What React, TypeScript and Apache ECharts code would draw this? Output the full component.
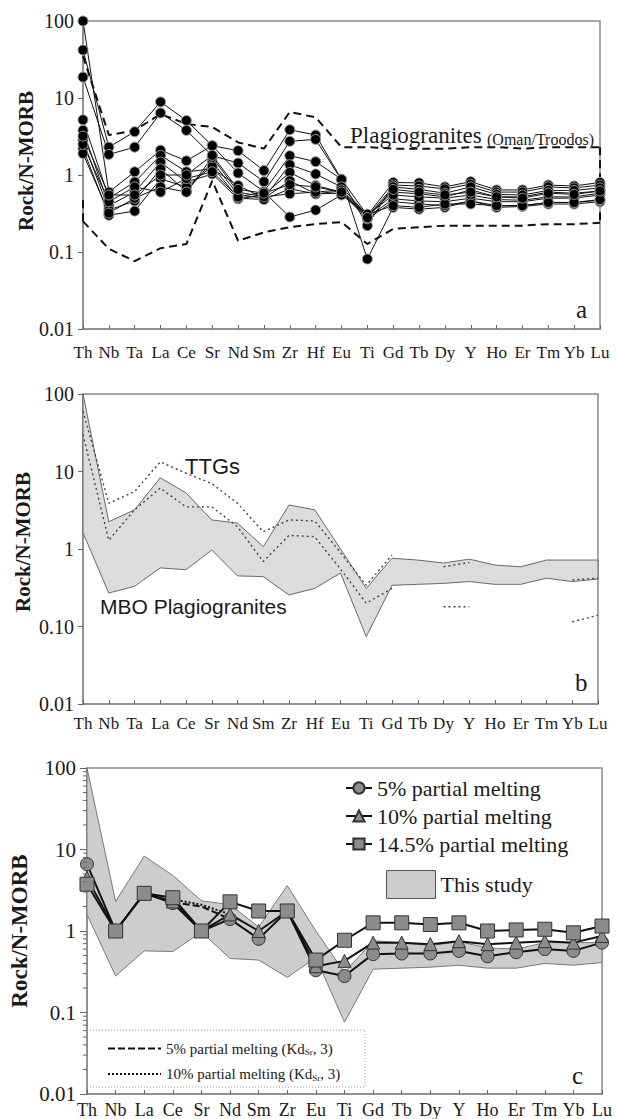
import React, { useEffect, useRef } from 'react';
import * as echarts from 'echarts';

const SERIF = 'Liberation Serif, DejaVu Serif, serif';
const SANS = 'Liberation Sans, Arial, sans-serif';

// categories
const catsAB = ['Th','Nb','Ta','La','Ce','Sr','Nd','Sm','Zr','Hf','Eu','Ti','Gd','Tb','Dy','Y','Ho','Er','Tm','Yb','Lu'];
const catsC = ['Th','Nb','La','Ce','Sr','Nd','Sm','Zr','Eu','Ti','Gd','Tb','Dy','Y','Ho','Er','Tm','Yb','Lu'];
const yTicksA = ['0.01','0.1','1','10','100'];
const yTicksB = ['0.01','0.10','1','10','100'];
const yTicksC = ['0.01','0.1','1','10','100'];

// panel a: samples (MBO plagiogranites)
const sA1 = [42, 2.3, 3.65, 8.9, 5.1, 2.4, 2.07, 1.14, 3.87, 3.3, 0.88, 0.3, 0.8, 0.79, 0.7, 0.82, 0.64, 0.64, 0.74, 0.72, 0.8];
const sA2 = [18.7, 1.85, 2.3, 6.4, 3.8, 1.78, 1.43, 0.82, 2.74, 2.9, 0.86, 0.22, 0.74, 0.72, 0.66, 0.76, 0.6, 0.6, 0.7, 0.68, 0.74];
const sA3 = [100, 0.6, 1.1, 2.1, 1.53, 2.4, 1.06, 0.61, 1.78, 1.49, 0.88, 0.081, 0.38, 0.36, 0.38, 0.46, 0.38, 0.39, 0.42, 0.42, 0.45];
const sA4 = [5.2, 0.5, 0.81, 1.8, 1.1, 1.2, 0.73, 0.5, 1.36, 1.03, 0.7, 0.3, 0.6, 0.57, 0.52, 0.64, 0.52, 0.52, 0.6, 0.58, 0.62];
const sA5 = [3.8, 0.4, 0.6, 1.47, 0.81, 1.03, 0.49, 0.55, 1.08, 0.73, 0.6, 0.28, 0.49, 0.46, 0.45, 0.5, 0.45, 0.45, 0.5, 0.5, 0.55];
const sA6 = [2.8, 0.35, 0.46, 1.2, 0.61, 1.5, 0.55, 0.5, 0.84, 0.57, 0.58, 0.27, 0.45, 0.42, 0.4, 0.46, 0.4, 0.4, 0.44, 0.44, 0.47];
const sA7 = [2.2, 0.3, 0.34, 0.89, 0.7, 1.3, 0.5, 0.48, 0.66, 0.57, 0.62, 0.29, 0.7, 0.65, 0.58, 0.7, 0.56, 0.55, 0.63, 0.63, 0.68];
const sA8 = [1.9, 0.32, 0.5, 0.7, 0.6, 1.7, 0.6, 0.52, 0.57, 0.6, 0.64, 0.3, 0.55, 0.52, 0.5, 0.55, 0.48, 0.47, 0.52, 0.52, 0.58];
const sA9 = [2.5, 0.45, 0.7, 0.6, 0.9, 1.1, 0.52, 0.6, 0.285, 0.35, 0.55, 0.31, 0.4, 0.38, 0.42, 0.42, 0.4, 0.4, 0.44, 0.44, 0.48];
const sA10 = [3.2, 0.55, 0.55, 1.0, 1.0, 1.8, 0.65, 0.58, 0.75, 0.7, 0.6, 0.28, 0.65, 0.6, 0.55, 0.6, 0.52, 0.5, 0.58, 0.56, 0.62];
const samplesA = [sA1, sA2, sA3, sA4, sA5, sA6, sA7, sA8, sA9, sA10];

// panel a: Oman/Troodos plagiogranite envelope
const omanUpper = [35, 3.3, 3.8, 6.2, 4.6, 4.2, 2.65, 2.2, 6.6, 5.6, 2.3, 2.3, 2.2, 2.2, 2.2, 2.3, 2.3, 2.2, 2.3, 2.3, 2.3];
const omanLower = [0.25, 0.11, 0.076, 0.112, 0.127, 0.84, 0.14, 0.18, 0.21, 0.23, 0.245, 0.127, 0.2, 0.21, 0.22, 0.22, 0.22, 0.22, 0.23, 0.23, 0.24];

// panel b: MBO plagiogranite field and TTGs
const mboUpperB = [100, 2.25, 3.2, 8.3, 5.3, 2.37, 2.16, 1.07, 3.7, 3.2, 1.0, 0.31, 0.76, 0.72, 0.66, 0.74, 0.62, 0.59, 0.72, 0.72, 0.72];
const mboLowerB = [1.62, 0.27, 0.33, 0.57, 0.54, 0.97, 0.45, 0.44, 0.255, 0.31, 0.49, 0.074, 0.34, 0.35, 0.36, 0.38, 0.35, 0.35, 0.42, 0.38, 0.41];
const ttgUpper = [60, 3.9, 5.5, 13.3, 9.5, 7.0, 3.9, 1.67, 2.37, 2.3, 0.9, 0.34, 0.84, null, 0.59, 0.67, null, null, null, 0.4, 0.42];
const ttgLower = [30, 1.3, 3.2, 6.1, 3.5, 3.5, 1.94, 0.69, 1.5, 1.44, 0.55, 0.2, 0.31, null, 0.18, 0.18, null, null, null, 0.115, 0.14];

// panel c: melting models and this study field
const melt5 = [6.6, 1.0, 2.9, 2.2, 1.0, 1.4, 0.8, 1.76, 0.33, 0.28, 0.52, 0.53, 0.53, 0.57, 0.49, 0.55, 0.6, 0.57, 0.72];
const melt10 = [4.5, 1.0, 2.9, 2.3, 1.0, 1.6, 1.0, 1.76, 0.37, 0.43, 0.72, 0.72, 0.69, 0.75, 0.69, 0.72, 0.75, 0.72, 0.87];
const melt145 = [3.75, 1.0, 2.9, 2.56, 1.0, 2.28, 1.76, 1.76, 0.44, 0.77, 1.26, 1.26, 1.2, 1.26, 1.0, 1.03, 1.05, 0.95, 1.15];
const melt5Kd = [null, null, null, 2.25, 2.0, 1.4, null, null, null, null, null, null, null, null, null, null, null, null, null];
const melt10Kd = [null, null, null, 2.45, 2.1, 1.6, null, null, null, null, null, null, null, null, null, null, null, null, null];
const studyUpperC = [100, 2.3, 8.3, 4.8, 2.35, 2.1, 1.12, 3.6, 1.0, 0.31, 0.76, 0.72, 0.66, 0.74, 0.62, 0.6, 0.72, 0.72, 0.72];
const studyLowerC = [1.6, 0.28, 0.57, 0.56, 0.97, 0.46, 0.44, 0.27, 0.47, 0.076, 0.34, 0.35, 0.36, 0.38, 0.35, 0.35, 0.4, 0.38, 0.41];

const labelFmt = (ticks: string[]) => (v: number) => {
  const i = Math.round(Math.log10(v)) + 2;
  return ticks[i] ?? '';
};

function bandSeries(name: string, gi: number, upper: number[], lower: number[], fill: string, stroke: string) {
  return {
    name,
    type: 'custom',
    xAxisIndex: gi,
    yAxisIndex: gi,
    data: [[0, 1]],
    z: 1,
    silent: true,
    itemStyle: { color: fill, borderColor: stroke, borderWidth: 1 },
    renderItem: (_p: any, api: any) => {
      const pts: number[][] = [];
      upper.forEach((v, i) => pts.push(api.coord([i, v])));
      for (let i = lower.length - 1; i >= 0; i--) pts.push(api.coord([i, lower[i]]));
      return { type: 'polygon', shape: { points: pts }, style: { fill, stroke, lineWidth: 1 } };
    },
  };
}

export default function App() {
  const ref = useRef<HTMLDivElement>(null);
  useEffect(() => {
    if (!ref.current) return;
    const chart = echarts.init(ref.current, undefined, { renderer: 'svg' });

    const grids = [
      { left: 83, top: 21, width: 517, height: 308 },
      { left: 83, top: 394, width: 515, height: 310 },
      { left: 83, top: 768, width: 519, height: 327 },
    ].map((g) => ({ ...g, show: true, borderColor: '#8a8a8a', borderWidth: 1.5, backgroundColor: 'transparent' }));

    const xAxes = [0, 1, 2].map((i) => ({
      gridIndex: i,
      type: 'category',
      data: i < 2 ? catsAB : catsC,
      boundaryGap: false,
      axisLine: { lineStyle: { color: '#8a8a8a', width: 1.5 } },
      axisTick: { show: true, inside: true, length: 4, interval: 0, lineStyle: { color: '#666' } },
      axisLabel: { interval: 0, color: '#1a1a1a', fontSize: i < 2 ? 17 : 18, fontFamily: SERIF, margin: i === 0 ? 15 : i === 1 ? 11 : 7 },
      splitLine: { show: false },
    }));

    const tickSets = [yTicksA, yTicksB, yTicksC];
    const nameGaps = [47, 50, 56];
    const namePads = [[0, 0, 0, 28], [0, 0, 0, 14], [0, 0, 0, 0]];
    const yAxes = [0, 1, 2].map((i) => ({
      gridIndex: i,
      type: 'log',
      logBase: 10,
      min: 0.01,
      max: 100,
      axisLine: { show: true, lineStyle: { color: '#8a8a8a', width: 1.5 } },
      axisTick: { show: true, inside: false, length: i === 2 ? 7 : 5, lineStyle: { color: '#666' } },
      axisLabel: { formatter: labelFmt(tickSets[i]), color: '#1a1a1a', fontSize: i === 2 ? 21 : 20, fontFamily: SERIF, margin: i === 2 ? 11 : 9 },
      splitLine: { show: false },
      name: 'Rock/N-MORB',
      nameLocation: 'middle',
      nameGap: nameGaps[i],
      nameMoveOverlap: false,
      nameTextStyle: { fontSize: i === 2 ? 23 : 21, fontWeight: 'bold', fontFamily: SERIF, color: '#1a1a1a', padding: namePads[i] },
    }));

    const series: any[] = [];
    // panel a
    samplesA.forEach((d, k) => {
      series.push({
        name: 'sample ' + (k + 1),
        type: 'line',
        xAxisIndex: 0,
        yAxisIndex: 0,
        data: d,
        symbol: 'circle',
        symbolSize: 10,
        lineStyle: { color: '#111', width: 1 },
        itemStyle: { color: '#000', borderColor: '#9a9a9a', borderWidth: 1 },
        z: 3,
      });
    });
    const dashA = { color: '#111', width: 2, type: [8, 5] };
    series.push({ name: 'Oman/Troodos upper', type: 'line', xAxisIndex: 0, yAxisIndex: 0, data: omanUpper, symbol: 'none', lineStyle: dashA, z: 2 });
    series.push({ name: 'Oman/Troodos lower', type: 'line', xAxisIndex: 0, yAxisIndex: 0, data: omanLower, symbol: 'none', lineStyle: dashA, z: 2 });
    series.push({ name: 'Oman/Troodos close', type: 'line', xAxisIndex: 0, yAxisIndex: 0, data: [[20, omanUpper[20]], [20, omanLower[20]]], symbol: 'none', lineStyle: dashA, z: 2 });
    series.push({ name: 'Oman/Troodos close Th', type: 'line', xAxisIndex: 0, yAxisIndex: 0, data: [[0, omanLower[0]], [0, 0.5]], symbol: 'none', lineStyle: dashA, z: 2 });

    // panel b
    series.push(bandSeries('MBO Plagiogranites', 1, mboUpperB, mboLowerB, '#dcdcdc', '#6a6a6a'));
    const dotB = { color: '#444', width: 1.4, type: [2, 3] };
    series.push({ name: 'TTGs upper', type: 'line', xAxisIndex: 1, yAxisIndex: 1, data: ttgUpper, symbol: 'none', lineStyle: dotB, connectNulls: false, z: 3 });
    series.push({ name: 'TTGs lower', type: 'line', xAxisIndex: 1, yAxisIndex: 1, data: ttgLower, symbol: 'none', lineStyle: dotB, connectNulls: false, z: 3 });

    // panel c
    series.push(bandSeries('This study', 2, studyUpperC, studyLowerC, '#cdcdcd', '#7a7a7a'));
    const markerStyle = { color: '#8c8c8c', borderColor: '#333', borderWidth: 1 };
    series.push({ name: '5% partial melting (KdSr, 3)', type: 'line', xAxisIndex: 2, yAxisIndex: 2, data: melt5Kd, symbol: 'none', itemStyle: { color: '#111' }, lineStyle: { color: '#111', width: 2, type: [7, 3] }, connectNulls: false, z: 3 });
    series.push({ name: '10% partial melting (KdSr, 3)', type: 'line', xAxisIndex: 2, yAxisIndex: 2, data: melt10Kd, symbol: 'none', itemStyle: { color: '#111' }, lineStyle: { color: '#111', width: 2, type: [2, 2] }, connectNulls: false, z: 3 });
    series.push({ name: '5% partial melting', type: 'line', xAxisIndex: 2, yAxisIndex: 2, data: melt5, symbol: 'circle', symbolSize: 13, lineStyle: { color: '#111', width: 2 }, itemStyle: markerStyle, z: 4 });
    series.push({ name: '10% partial melting', type: 'line', xAxisIndex: 2, yAxisIndex: 2, data: melt10, symbol: 'triangle', symbolSize: 13, lineStyle: { color: '#111', width: 2 }, itemStyle: markerStyle, z: 4 });
    series.push({ name: '14.5% partial melting', type: 'line', xAxisIndex: 2, yAxisIndex: 2, data: melt145, symbol: 'rect', symbolSize: 14, lineStyle: { color: '#111', width: 2 }, itemStyle: markerStyle, z: 5 });

    const staticGraphic: any[] = [
      { type: 'text', left: 350, top: 124, style: { text: 'Plagiogranites', font: `23px ${SERIF}`, fill: '#1a1a1a' }, z: 10 },
      { type: 'text', left: 487, top: 131, style: { text: '(Oman/Troodos)', font: `16px ${SERIF}`, fill: '#1a1a1a' }, z: 10 },
      { type: 'text', left: 576, top: 297, style: { text: 'a', font: `25px ${SERIF}`, fill: '#1a1a1a' }, z: 10 },
      { type: 'text', left: 185, top: 455, style: { text: 'TTGs', font: `22px ${SANS}`, fill: '#1a1a1a' }, z: 10 },
      { type: 'text', left: 100, top: 596, style: { text: 'MBO Plagiogranites', font: `21px ${SANS}`, fill: '#1a1a1a' }, z: 10 },
      { type: 'text', left: 575, top: 670, style: { text: 'b', font: `25px ${SERIF}`, fill: '#1a1a1a' }, z: 10 },
      { type: 'text', left: 572, top: 1063, style: { text: 'c', font: `25px ${SERIF}`, fill: '#1a1a1a' }, z: 10 },
      { type: 'rect', shape: { x: 87, y: 1030, width: 278, height: 57 }, style: { fill: 'none', stroke: '#999', lineWidth: 1, lineDash: [1, 2] }, z: 10 },
    ];

    const option: any = {
      animation: false,
      backgroundColor: '#ffffff',
      textStyle: { fontFamily: SERIF },
      grid: grids,
      xAxis: xAxes,
      yAxis: yAxes,
      legend: [
        {
          left: 340, top: 772, orient: 'vertical', itemWidth: 26, itemHeight: 14, itemGap: 6,
          data: ['5% partial melting', '10% partial melting', '14.5% partial melting'],
          textStyle: { fontSize: 22, fontFamily: SERIF, color: '#1a1a1a' },
          selectedMode: false,
        },
        {
          left: 381, top: 865, itemWidth: 49, itemHeight: 28,
          data: [{ name: 'This study', icon: 'rect' }],
          itemStyle: { borderColor: '#555', borderWidth: 1 },
          textStyle: { fontSize: 22, fontFamily: SERIF, color: '#1a1a1a' },
          selectedMode: false,
        },
        {
          left: 102, top: 1036, orient: 'vertical', itemWidth: 53, itemHeight: 10, itemGap: 10,
          data: ['5% partial melting (KdSr, 3)', '10% partial melting (KdSr, 3)'],
          itemStyle: { opacity: 0 },
          formatter: (name: string) => {
            const [pre, post] = name.split('KdSr');
            return `{t|${pre}Kd}{s|Sr}{t|${post}}`;
          },
          textStyle: {
            fontSize: 15, fontFamily: SERIF, color: '#1a1a1a',
            rich: { t: { fontSize: 15, fontFamily: SERIF }, s: { fontSize: 9, fontFamily: SERIF, padding: [7, 0, 0, 0] } },
          },
          selectedMode: false,
        },
      ],
      series,
      graphic: staticGraphic,
    };
    chart.setOption(option);

    // minor log ticks for panel c
    const minorVals: number[] = [];
    [0.01, 0.1, 1, 10].forEach((d) => {
      for (let m = 2; m <= 9; m++) minorVals.push(d * m);
    });
    const minor: any[] = [];
    minorVals.forEach((v) => {
      const p = chart.convertToPixel({ gridIndex: 2 } as any, [0, v]) as any;
      if (p && isFinite(p[1])) {
        minor.push({ type: 'line', shape: { x1: p[0] - 4, y1: p[1], x2: p[0], y2: p[1] }, style: { stroke: '#666', lineWidth: 1 }, z: 10 });
      }
    });
    chart.setOption({ graphic: [...staticGraphic, ...minor] });

    return () => chart.dispose();
  }, []);
  return <div ref={ref} style={{ position: 'absolute', left: 0, top: 0, width: 617, height: 1119 }} />;
}
